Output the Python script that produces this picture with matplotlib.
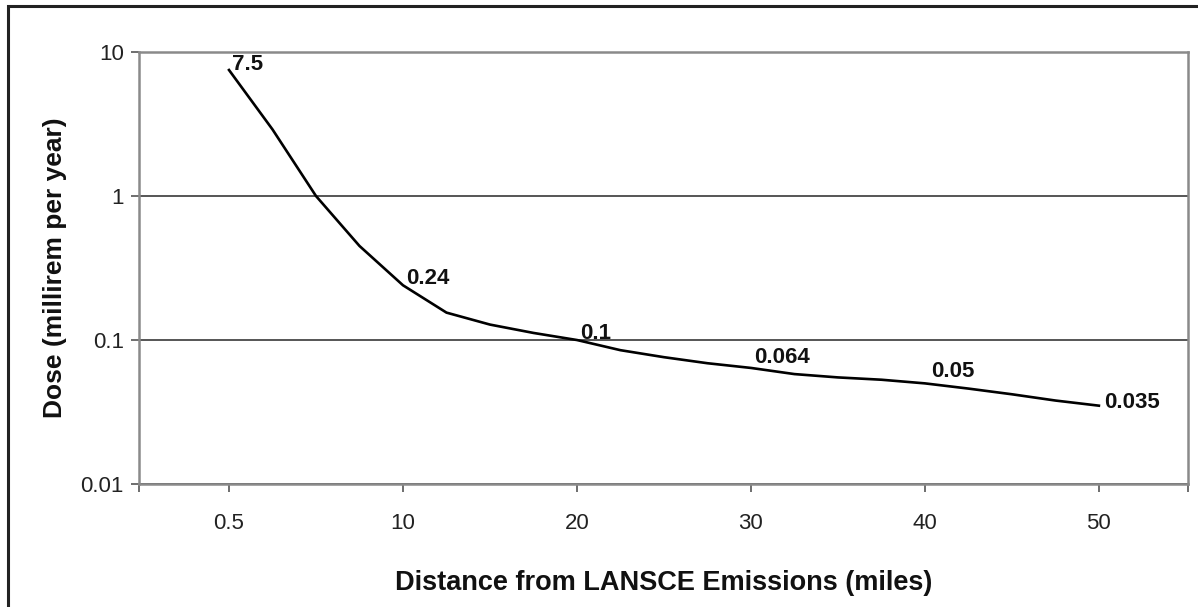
import matplotlib
matplotlib.use("Agg")
import matplotlib.pyplot as plt
from matplotlib.patches import Rectangle

plt.rcParams["font.family"] = ["Liberation Sans", "DejaVu Sans"]

# distance categories (miles) and dose
distances = [0.5, 2.5, 5, 7.5, 10, 12.5, 15, 17.5, 20, 22.5, 25,
             27.5, 30, 32.5, 35, 37.5, 40, 42.5, 45, 47.5, 50]
dose = [7.5, 2.9, 1.0, 0.45, 0.24, 0.155, 0.128, 0.112, 0.1, 0.085, 0.076,
        0.069, 0.064, 0.058, 0.055, 0.053, 0.05, 0.046, 0.042, 0.038, 0.035]

tick_labels = ["0.5", "10", "20", "30", "40", "50"]
labelled = ["7.5", "0.24", "0.1", "0.064", "0.05", "0.035"]
label_offsets = [(3, 6), (3, 7), (3, 7), (3, 10), (6, 12), (5, 3)]

pos = list(range(len(distances)))
label_pos = [distances.index(float(t)) for t in tick_labels]
value_pos = [dose.index(float(v)) for v in labelled]

fig = plt.figure(figsize=(11.98, 6.07), dpi=100)
ax = fig.add_axes([0.116, 0.2026, 0.8757, 0.7117])

ax.plot(pos, dose, color="black", lw=1.9, solid_joinstyle="round")
ax.set_yscale("log")
ax.set_ylim(0.01, 10)
ax.set_xlim(-2.07, 22.05)

ax.set_yticks([0.01, 0.1, 1, 10])
ax.set_yticklabels(["0.01", "0.1", "1", "10"])
ax.minorticks_off()
ax.set_xticks([-2.07] + label_pos + [22.05])
ax.set_xticklabels([""] + tick_labels + [""])

ax.grid(axis="y", color="#555555", lw=1.4)
ax.set_axisbelow(True)
for s in ax.spines.values():
    s.set_color("#8a8a8a")
    s.set_linewidth(1.8)
ax.tick_params(axis="both", colors="#555555", labelcolor="#222222",
               labelsize=16, length=6, width=1.2)
ax.tick_params(axis="x", pad=15)
ax.tick_params(axis="y", pad=5)

for i, txt, off in zip(value_pos, labelled, label_offsets):
    ax.annotate(txt, (pos[i], dose[i]), xytext=off, textcoords="offset pixels",
                ha="left", va="center", fontsize=16, fontweight="bold",
                color="#111111")

ax.set_xlabel("Distance from LANSCE Emissions (miles)", fontsize=19.5,
              fontweight="bold", color="#111111")
ax.xaxis.set_label_coords(0.5, -0.2)
ax.set_ylabel("Dose (millirem per year)", fontsize=19, fontweight="bold",
              color="#111111")
ax.yaxis.set_label_coords(-0.069, 0.5)

fig.patches.append(Rectangle((8 / 1198, -0.05), 1.2, 1.05 - 6 / 607,
                             transform=fig.transFigure, fill=False,
                             edgecolor="#222222", lw=2.2))

fig.savefig("out.png", dpi=100)
